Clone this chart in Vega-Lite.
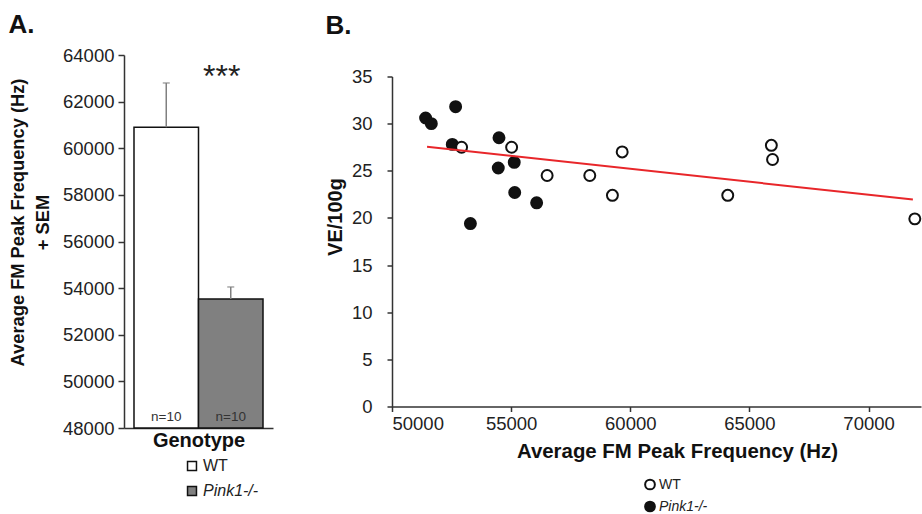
{
  "$schema": "https://vega.github.io/schema/vega-lite/v6.json",
  "padding": {"left": 8, "top": 12, "right": 0, "bottom": 0},
  "spacing": 119,
  "bounds": "flush",
  "center": true,
  "config": {
    "font": "Liberation Sans",
    "view": {"stroke": null},
    "axis": {"domainColor": "#333", "tickColor": "#333", "domainWidth": 1.5, "tickWidth": 1.5, "grid": false, "labelColor": "#222", "titleColor": "#111", "labelFontSize": 18.5, "titleFontWeight": "bold", "titleFontSize": 20}
  },
  "datasets": {
    "bars": [
      {"Genotype": "WT", "mean": 60900, "upper": 62800, "n": "n=10"},
      {"Genotype": "Pink1-/-", "mean": 53530, "upper": 54050, "n": "n=10"}
    ],
    "sig": [{"Genotype": "Pink1-/-", "label": "***"}],
    "points": [
      {"Genotype": "Pink1-/-", "freq": 51410, "ve": 30.6},
      {"Genotype": "Pink1-/-", "freq": 51650, "ve": 30.0},
      {"Genotype": "Pink1-/-", "freq": 52670, "ve": 31.8},
      {"Genotype": "Pink1-/-", "freq": 52530, "ve": 27.8},
      {"Genotype": "Pink1-/-", "freq": 54490, "ve": 28.5},
      {"Genotype": "Pink1-/-", "freq": 54460, "ve": 25.3},
      {"Genotype": "Pink1-/-", "freq": 55130, "ve": 25.9},
      {"Genotype": "Pink1-/-", "freq": 55150, "ve": 22.7},
      {"Genotype": "Pink1-/-", "freq": 56070, "ve": 21.6},
      {"Genotype": "Pink1-/-", "freq": 53290, "ve": 19.4},
      {"Genotype": "WT", "freq": 52920, "ve": 27.5},
      {"Genotype": "WT", "freq": 55020, "ve": 27.5},
      {"Genotype": "WT", "freq": 56510, "ve": 24.5},
      {"Genotype": "WT", "freq": 58300, "ve": 24.5},
      {"Genotype": "WT", "freq": 59250, "ve": 22.4},
      {"Genotype": "WT", "freq": 59660, "ve": 27.0},
      {"Genotype": "WT", "freq": 64090, "ve": 22.4},
      {"Genotype": "WT", "freq": 65920, "ve": 27.7},
      {"Genotype": "WT", "freq": 65970, "ve": 26.2},
      {"Genotype": "WT", "freq": 71940, "ve": 19.9}
    ],
    "fit": [
      {"freq": 51470, "ve": 27.55},
      {"freq": 71860, "ve": 21.95}
    ]
  },
  "hconcat": [
    {
      "width": 149,
      "height": 373,
      "title": {"text": "A.", "anchor": "start", "frame": "bounds", "fontSize": 26, "fontWeight": "bold", "color": "#111", "offset": 8},
      "layer": [
        {
          "data": {"name": "bars"},
          "mark": {"type": "bar", "stroke": "#111", "strokeWidth": 1.5},
          "encoding": {
            "x": {"field": "Genotype", "type": "nominal", "sort": ["WT", "Pink1-/-"],
              "scale": {"paddingInner": 0, "paddingOuter": 0.155},
              "axis": {"title": "Genotype", "labels": false, "ticks": false, "titlePadding": 2}},
            "y": {"field": "mean", "type": "quantitative",
              "scale": {"domain": [48000, 64000], "nice": false, "zero": false},
              "axis": {"values": [48000, 50000, 52000, 54000, 56000, 58000, 60000, 62000, 64000], "format": "d", "tickSize": 6, "labelPadding": 4,
                "title": ["Average  FM Peak Frequency (Hz)", "+ SEM"], "titleFontSize": 18.3, "titleLineHeight": 25, "titlePadding": 10, "titleY": 167}},
            "y2": {"datum": 48000},
            "fill": {"field": "Genotype", "type": "nominal",
              "scale": {"domain": ["WT", "Pink1-/-"], "range": ["white", "#808080"]},
              "legend": {"title": null, "orient": "none", "legendX": 60, "legendY": 403, "direction": "vertical", "symbolType": "square", "symbolSize": 80, "symbolStrokeColor": "#111", "symbolStrokeWidth": 1.5, "labelFontSize": 16, "labelColor": "#222", "rowPadding": 9, "labelOffset": 3,
                "labelFontStyle": {"expr": "datum.label === 'WT' ? 'normal' : 'italic'"}}}
          }
        },
        {
          "data": {"name": "bars"},
          "mark": {"type": "rule", "color": "#808080", "strokeWidth": 1.5},
          "encoding": {
            "x": {"field": "Genotype", "type": "nominal", "sort": ["WT", "Pink1-/-"]},
            "y": {"field": "mean", "type": "quantitative"},
            "y2": {"field": "upper"}
          }
        },
        {
          "data": {"name": "bars"},
          "mark": {"type": "tick", "color": "#808080", "size": 7, "thickness": 1.5},
          "encoding": {
            "x": {"field": "Genotype", "type": "nominal", "sort": ["WT", "Pink1-/-"]},
            "y": {"field": "upper", "type": "quantitative"}
          }
        },
        {
          "data": {"name": "bars"},
          "mark": {"type": "text", "baseline": "bottom", "dy": -4, "fontSize": 13.5, "color": "#333"},
          "encoding": {
            "x": {"field": "Genotype", "type": "nominal", "sort": ["WT", "Pink1-/-"]},
            "y": {"datum": 48000, "type": "quantitative"},
            "text": {"field": "n"}
          }
        },
        {
          "data": {"name": "sig"},
          "mark": {"type": "text", "baseline": "middle", "dx": -9, "dy": 3, "fontSize": 32, "color": "#222"},
          "encoding": {
            "x": {"field": "Genotype", "type": "nominal", "sort": ["WT", "Pink1-/-"]},
            "y": {"datum": 63200, "type": "quantitative"},
            "text": {"field": "label"}
          }
        }
      ]
    },
    {
      "width": 529,
      "height": 330,
      "title": {"text": "B.", "anchor": "start", "frame": "bounds", "fontSize": 26, "fontWeight": "bold", "color": "#111", "offset": 29},
      "layer": [
        {
          "data": {"name": "points"},
          "mark": {"type": "point", "shape": "circle", "filled": true, "size": 120, "stroke": "#111", "strokeWidth": 2, "opacity": 1},
          "encoding": {
            "x": {"field": "freq", "type": "quantitative",
              "scale": {"domain": [50000, 72200], "nice": false, "zero": false},
              "axis": {"values": [50000, 55000, 60000, 65000, 70000], "format": "d", "tickSize": 5, "labelPadding": 3, "title": "Average FM Peak Frequency (Hz)", "titleFontSize": 20.4, "titlePadding": 8, "titleX": 285}},
            "y": {"field": "ve", "type": "quantitative",
              "scale": {"domain": [0, 35], "nice": false},
              "axis": {"values": [0, 5, 10, 15, 20, 25, 30, 35], "tickSize": 5, "labelPadding": 15, "title": "VE/100g", "titlePadding": 6, "titleY": 140}},
            "fill": {"field": "Genotype", "type": "nominal",
              "scale": {"domain": ["WT", "Pink1-/-"], "range": ["white", "#111"]},
              "legend": {"title": null, "orient": "none", "legendX": 251, "legendY": 401, "direction": "vertical", "symbolType": "circle", "symbolSize": 95, "symbolStrokeColor": "#111", "symbolStrokeWidth": 2, "labelFontSize": 14, "labelColor": "#222", "rowPadding": 4, "labelOffset": 2,
                "labelFontStyle": {"expr": "datum.label === 'WT' ? 'normal' : 'italic'"}}}
          }
        },
        {
          "data": {"name": "fit"},
          "mark": {"type": "line", "color": "#e8262a", "strokeWidth": 2},
          "encoding": {
            "x": {"field": "freq", "type": "quantitative"},
            "y": {"field": "ve", "type": "quantitative"}
          }
        }
      ]
    }
  ],
  "resolve": {"scale": {"fill": "independent"}, "legend": {"fill": "independent"}}
}
